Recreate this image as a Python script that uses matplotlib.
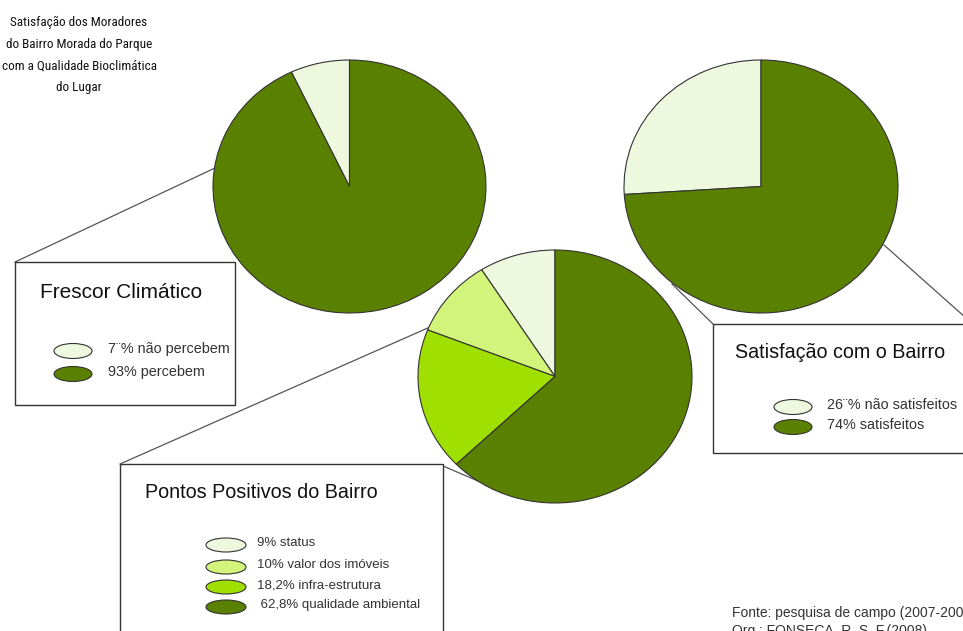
import matplotlib.pyplot as plt
from matplotlib.patches import Rectangle, Ellipse
from matplotlib import font_manager

# data
frescor_labels = ["7¨% não percebem", "93% percebem"]
frescor_values = [7, 93]

satisf_labels = ["26¨% não satisfeitos", "74% satisfeitos"]
satisf_values = [26, 74]

pontos_labels = ["9% status", "10% valor dos imóveis", "18,2% infra-estrutura",
                 " 62,8% qualidade ambiental"]
pontos_values = [9, 10, 18.2, 62.8]

c_light = "#eef8df"
c_valor = "#d3f47a"
c_infra = "#a0e000"
c_dark = "#5a8000"

W, H = 963, 631
fig = plt.figure(figsize=(W / 100, H / 100), dpi=100)
fig.patch.set_facecolor("white")

# background axes in pixel coordinates (y down)
bg = fig.add_axes([0, 0, 1, 1])
bg.set_xlim(0, W)
bg.set_ylim(H, 0)
bg.axis('off')

names = {f.name for f in font_manager.fontManager.ttflist}
narrow = [n for n in ['Liberation Sans Narrow', 'Roboto Condensed', 'DejaVu Sans Condensed']
          if n in names]
arial = ['Liberation Sans', 'DejaVu Sans']


def pie_at(x0, y0, x1, y1, values, colors):
    """Pie drawn inside a pixel box (slightly elliptical like the original)"""
    ax = fig.add_axes([x0 / W, 1 - y1 / H, (x1 - x0) / W, (y1 - y0) / H])
    ax.pie(values, colors=colors, startangle=90, counterclock=True,
           wedgeprops=dict(edgecolor="#333333", linewidth=0.8))
    ax.set_aspect('auto')
    ax.set_xlim(-1, 1)
    ax.set_ylim(-1, 1)
    ax.axis('off')
    return ax


def legend_box(x0, y0, x1, y1, title, tx, ty, tsize, labels, colors, ex, ey, lx, lsize, ew=38, eh=15):
    bg.add_patch(Rectangle((x0, y0), x1 - x0, y1 - y0, facecolor="white",
                           edgecolor="#333333", linewidth=1.0, zorder=2))
    bg.text(tx, ty, title, fontsize=tsize, family=arial, color="#111111",
            va='center', ha='left', zorder=3)
    for lab, col, yy in zip(labels, colors, ey):
        bg.add_patch(Ellipse((ex, yy), ew, eh, facecolor=col, edgecolor="#333333",
                             linewidth=0.8, zorder=3))
        bg.text(lx, yy - 2, lab, fontsize=lsize, family=arial, color="#333333",
                va='center', ha='left', zorder=3)


# connector lines (under the pies)
line_kw = dict(color="#555555", linewidth=0.9, zorder=1)
bg.plot([15, 215], [262, 168], **line_kw)
bg.plot([713, 672], [324, 284], **line_kw)
bg.plot([884, 975], [245, 326], **line_kw)
bg.plot([120, 430], [464, 327], **line_kw)
bg.plot([443, 478], [466, 481], **line_kw)

# boxes with legends
legend_box(15, 262, 235, 405, "Frescor Climático", 40, 292, 15,
           frescor_labels, [c_light, c_dark], 73, [351, 374], 108, 10.4)
legend_box(713, 324, 990, 453, "Satisfação com o Bairro", 735, 352, 14.2,
           satisf_labels, [c_light, c_dark], 793, [407, 427], 827, 10.4)
legend_box(120, 464, 443, 660, "Pontos Positivos do Bairro", 145, 493, 14.2,
           pontos_labels, [c_light, c_valor, c_infra, c_dark], 226,
           [545, 567, 587, 607], 257, 9.5, ew=40, eh=14)

# pies
pie_at(213, 60, 486, 313, frescor_values, [c_light, c_dark])
pie_at(624, 60, 898, 313, satisf_values, [c_light, c_dark])
pie_at(418, 250, 692, 503, pontos_values, [c_light, c_valor, c_infra, c_dark])

# title block
title = ("Satisfação dos Moradores\ndo Bairro Morada do Parque\n"
         "com a Qualidade Bioclimática\ndo Lugar")
if narrow:
    bg.text(79, 55, title, fontsize=9.5, family=narrow + arial,
            ha='center', va='center', linespacing=1.85, color="#111111")
else:
    bg.text(79, 55, title, fontsize=8.5, family=arial,
            ha='center', va='center', linespacing=1.95, color="#111111")

# source
bg.text(732, 613, "Fonte: pesquisa de campo (2007-2008)", fontsize=10,
        family=arial, color="#333333", va='center', ha='left')
bg.text(732, 624, "Org.: FONSECA, R. S. F.(2008)", fontsize=10,
        family=arial, color="#333333", va='top', ha='left')

fig.savefig("out.png", dpi=100, facecolor="white")
